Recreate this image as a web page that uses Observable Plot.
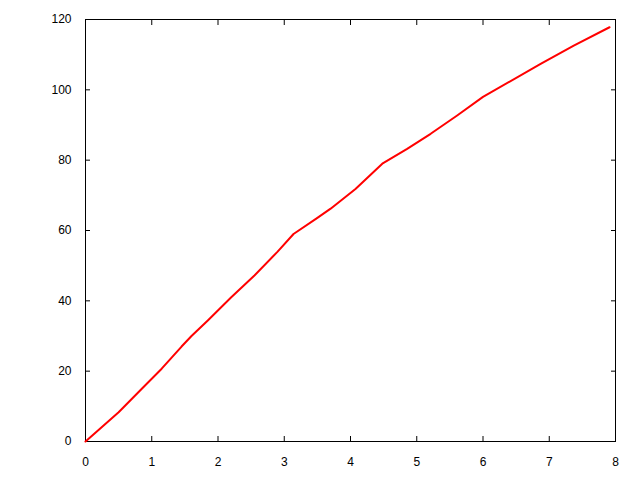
<!DOCTYPE html>
<html>
<head>
<meta charset="utf-8">
<script src="https://cdn.jsdelivr.net/npm/d3@7"></script>
<script src="https://cdn.jsdelivr.net/npm/@observablehq/plot@0.6"></script>
<style>
  html, body { margin: 0; padding: 0; background: #fff; }
  svg { display: block; }
</style>
</head>
<body>
<div id="chart"></div>
<script>
const xValues = [0, 0.5, 0.85, 1.15, 1.45, 1.6, 1.85, 2.2, 2.55, 2.9, 3.14, 3.5, 3.7, 4.075, 4.48, 4.855, 5.21, 5.61, 6.0, 6.87, 7.37, 7.91];
const yValues = [0, 8.3, 15, 20.7, 27, 30, 34.5, 41, 47.2, 54, 59, 63.6, 66.2, 71.8, 79.0, 83.2, 87.5, 92.7, 98.0, 107.4, 112.6, 117.8];
const xTicks = [0, 1, 2, 3, 4, 5, 6, 7, 8];
const yTicks = [0, 20, 40, 60, 80, 100, 120];

const data = xValues.map((x, i) => ({x, y: yValues[i]}));

const chart = Plot.plot({
  width: 640,
  height: 480,
  marginLeft: 85,
  marginRight: 25,
  marginTop: 19,
  marginBottom: 39,
  style: {fontFamily: "'Liberation Sans', Arial, sans-serif", fontSize: "12px", color: "#000", background: "#fff"},
  x: {domain: [0, 8]},
  y: {domain: [0, 120]},
  marks: [
    Plot.axisX(xTicks, {anchor: "bottom", tickSize: 0, tickPadding: 16, label: null, tickFormat: d => String(d)}),
    Plot.axisY(yTicks, {anchor: "left", tickSize: 0, tickPadding: 14, label: null, tickFormat: d => String(d)}),
    Plot.axisX(xTicks, {anchor: "bottom", tickSize: -5, strokeWidth: 1, label: null, tickFormat: () => ""}),
    Plot.axisX(xTicks, {anchor: "top", tickSize: -5, strokeWidth: 1, label: null, tickFormat: () => ""}),
    Plot.axisY(yTicks, {anchor: "left", tickSize: -5, strokeWidth: 1, label: null, tickFormat: () => ""}),
    Plot.axisY(yTicks, {anchor: "right", tickSize: -5, strokeWidth: 1, label: null, tickFormat: () => ""}),
    Plot.frame({stroke: "#000", strokeWidth: 1}),
    Plot.line(data, {x: "x", y: "y", stroke: "#ff0000", strokeWidth: 2})
  ]
});
document.getElementById("chart").appendChild(chart);
</script>
</body>
</html>
